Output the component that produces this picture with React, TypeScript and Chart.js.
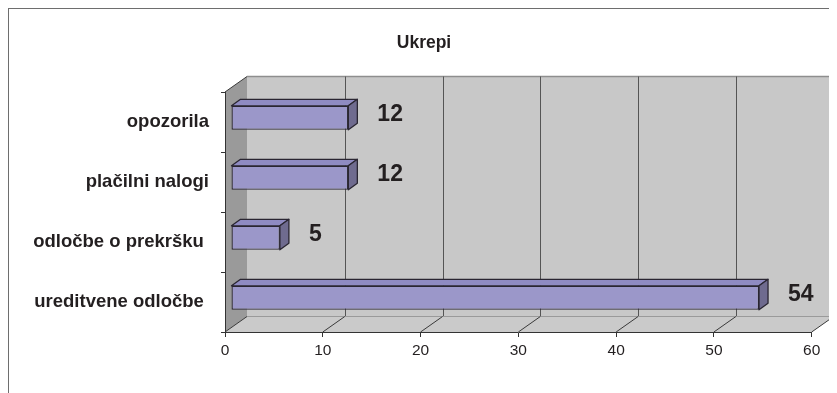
import React, { useEffect, useRef } from "react";
import { Chart, registerables } from "chart.js";

Chart.register(...registerables);

const titleText = "Ukrepi";
const categories = ["opozorila", "plačilni nalogi", "odločbe o prekršku ", "ureditvene odločbe "];
const values = [12, 12, 5, 54];
const xTicks = [0, 10, 20, 30, 40, 50, 60];

const FONT = "'Liberation Sans', Arial, Helvetica, sans-serif";
const TEXT = "#231f20";

// 3D geometry (pixels)
const DX = 22;
const DY = 15.5;
const SHIFT_X = 6;
const SHIFT_Y = 4.2;
const BAR_DX = 9;
const BAR_DY = 6.5;

const threeD = {
  id: "threeD",
  beforeDraw(chart: any) {
    const { ctx, width, height } = chart;
    const { left: L, right: R, top: T, bottom: B } = chart.chartArea;
    const xs = chart.scales.x;
    ctx.save();
    // page frame
    ctx.fillStyle = "#6e6e6e";
    ctx.fillRect(0, 0, width, 1);
    ctx.fillRect(0, 0, 1, height);

    // title
    ctx.fillStyle = TEXT;
    ctx.font = `bold 17.5px ${FONT}`;
    ctx.textAlign = "center";
    ctx.textBaseline = "alphabetic";
    ctx.fillText(titleText, 416, 40.3);

    // back wall
    ctx.fillStyle = "#c8c8c8";
    ctx.fillRect(L + DX, T - DY, R - L, B - T);
    ctx.strokeStyle = "#8e8e8e";
    ctx.lineWidth = 1.5;
    ctx.beginPath();
    ctx.moveTo(L + DX, T - DY);
    ctx.lineTo(R + DX, T - DY);
    ctx.stroke();
    ctx.fillStyle = "#8c8c8c";
    ctx.fillRect(R + DX, T - DY - 0.75, 3, B - T + 0.75);

    // back wall grid lines
    ctx.strokeStyle = "#555555";
    ctx.lineWidth = 1;
    xTicks.forEach((v) => {
      if (v === xTicks[0] || v === xTicks[xTicks.length - 1]) return;
      const px = Math.round(xs.getPixelForValue(v) + DX) + 0.5;
      ctx.beginPath();
      ctx.moveTo(px, T - DY);
      ctx.lineTo(px, B - DY);
      ctx.stroke();
    });

    // floor
    ctx.fillStyle = "#cacaca";
    ctx.beginPath();
    ctx.moveTo(L, B);
    ctx.lineTo(L + DX, B - DY);
    ctx.lineTo(R + DX, B - DY);
    ctx.lineTo(R, B);
    ctx.closePath();
    ctx.fill();
    ctx.strokeStyle = "#9a9a9a";
    ctx.lineWidth = 1.2;
    ctx.beginPath();
    ctx.moveTo(L + DX, B - DY);
    ctx.lineTo(R + DX, B - DY);
    ctx.stroke();

    // floor diagonals
    ctx.strokeStyle = "#3a3a3a";
    ctx.lineWidth = 1;
    xTicks.forEach((v) => {
      if (v === xTicks[0]) return;
      const px = xs.getPixelForValue(v);
      ctx.beginPath();
      ctx.moveTo(px, B);
      ctx.lineTo(px + DX, B - DY);
      ctx.stroke();
    });

    // left wall
    ctx.fillStyle = "#9a9a9a";
    ctx.beginPath();
    ctx.moveTo(L, T);
    ctx.lineTo(L + DX, T - DY);
    ctx.lineTo(L + DX, B - DY);
    ctx.lineTo(L, B);
    ctx.closePath();
    ctx.fill();
    ctx.strokeStyle = "#3a3a3a";
    ctx.lineWidth = 1;
    ctx.beginPath();
    ctx.moveTo(L, T);
    ctx.lineTo(L + DX, T - DY);
    ctx.moveTo(L, B);
    ctx.lineTo(L + DX, B - DY);
    ctx.stroke();
    ctx.restore();
  },
  beforeDatasetsDraw(chart: any) {
    chart.ctx.save();
    chart.ctx.translate(SHIFT_X, -SHIFT_Y);
  },
  afterDatasetsDraw(chart: any) {
    const ctx = chart.ctx;
    const meta = chart.getDatasetMeta(0);
    meta.data.forEach((bar: any, i: number) => {
      const { x, y, base, height } = bar.getProps(["x", "y", "base", "height"], true);
      const t = y - height / 2;
      const b = y + height / 2;
      ctx.lineWidth = 1.3;
      ctx.strokeStyle = "#2a2632";
      ctx.lineJoin = "round";
      // top face
      ctx.fillStyle = "#8f8bc2";
      ctx.beginPath();
      ctx.moveTo(base, t);
      ctx.lineTo(base + BAR_DX, t - BAR_DY);
      ctx.lineTo(x + BAR_DX, t - BAR_DY);
      ctx.lineTo(x, t);
      ctx.closePath();
      ctx.fill();
      ctx.stroke();
      // side face
      ctx.fillStyle = "#6f6b8f";
      ctx.beginPath();
      ctx.moveTo(x, t);
      ctx.lineTo(x + BAR_DX, t - BAR_DY);
      ctx.lineTo(x + BAR_DX, b - BAR_DY);
      ctx.lineTo(x, b);
      ctx.closePath();
      ctx.fill();
      ctx.stroke();
      // value label
      ctx.fillStyle = TEXT;
      ctx.font = `bold 23px ${FONT}`;
      ctx.textAlign = "left";
      ctx.textBaseline = "middle";
      ctx.fillText(String(values[i]), x + BAR_DX + 20, y - 3.5);
    });
    ctx.restore();
  },
};

export default function App() {
  const ref = useRef<HTMLCanvasElement | null>(null);
  useEffect(() => {
    if (!ref.current) return;
    const chart = new Chart(ref.current, {
      type: "bar",
      data: {
        labels: categories,
        datasets: [
          {
            data: values,
            backgroundColor: "#9b97c9",
            borderColor: "#2a2632",
            borderWidth: 1.3,
            borderSkipped: false,
            barPercentage: 0.4,
            categoryPercentage: 1,
            clip: false as any,
          },
        ],
      },
      options: {
        indexAxis: "y",
        animation: false,
        responsive: false,
        layout: { padding: { left: 0, right: 25.3, top: 84, bottom: 0 } },
        plugins: {
          legend: { display: false },
          tooltip: { enabled: false },
          title: { display: false },
        },
        scales: {
          x: {
            min: xTicks[0],
            max: xTicks[xTicks.length - 1],
            afterBuildTicks: (s: any) => {
              s.ticks = xTicks.map((v) => ({ value: v }));
            },
            afterFit: (s: any) => {
              s.height = 61;
            },
            ticks: {
              color: TEXT,
              font: { family: FONT, size: 15.5 },
              padding: 4,
              maxRotation: 0,
              autoSkip: false,
            },
            grid: { drawOnChartArea: false, drawTicks: true, tickLength: 5, color: "#333333" },
            border: { display: true, color: "#333333", width: 1 },
          },
          y: {
            afterFit: (s: any) => {
              s.width = 217;
            },
            ticks: {
              color: TEXT,
              font: { family: FONT, size: 18.5, weight: "bold" },
              padding: 12,
              autoSkip: false,
            },
            grid: { drawOnChartArea: false, drawTicks: true, tickLength: 4, color: "#333333", offset: true },
            border: { display: true, color: "#333333", width: 1 },
          },
        },
      } as any,
      plugins: [threeD],
    });
    return () => chart.destroy();
  }, []);
  return (
    <div style={{ width: 829, height: 385 }}>
      <canvas ref={ref} width={829} height={385} style={{ display: "block" }} />
    </div>
  );
}
